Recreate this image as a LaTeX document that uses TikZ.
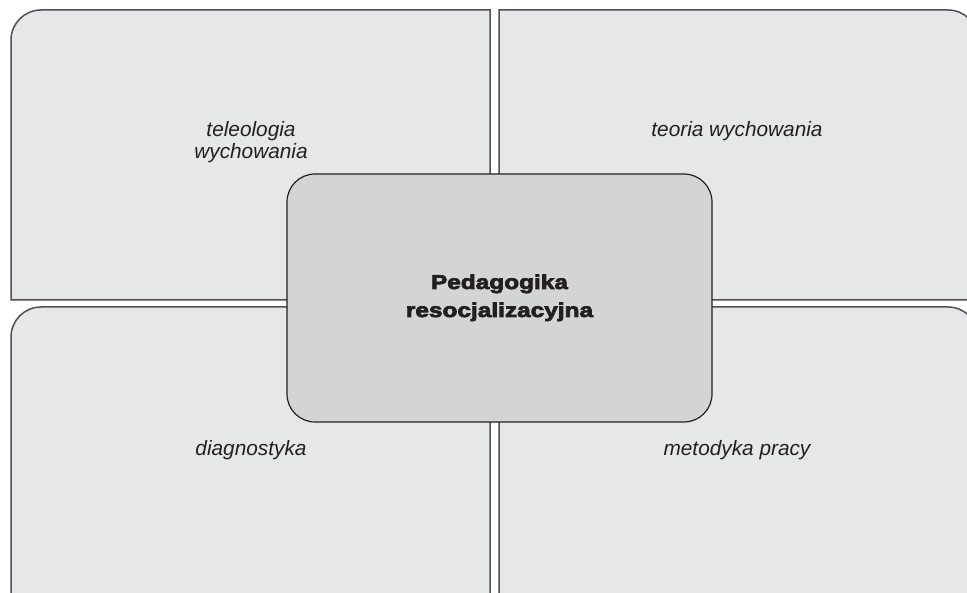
\documentclass[tikz,border=0pt]{standalone}
\usepackage{fontspec}
\setmainfont{Liberation Sans}
\newfontfamily\heavyfont[FakeStretch=1.22,BoldFeatures={FakeBold=3.5}]{Liberation Sans}
\definecolor{outerfill}{HTML}{E6E7E8}
\definecolor{outerline}{HTML}{505052}
\definecolor{innerfill}{HTML}{D3D4D6}
\definecolor{inkc}{HTML}{231F20}
\tikzset{
  quadbox/.style={fill=outerfill, draw=outerline, line width=1.5pt},
  centerbox/.style={fill=innerfill, draw=inkc, line width=1.2pt, rounded corners=28pt},
  itlabel/.style={font=\fontsize{20.8}{22}\selectfont\itshape, text=inkc, anchor=base, inner sep=0pt},
  mainlabel/.style={font=\fontsize{20}{28}\selectfont\heavyfont\bfseries, text=inkc, anchor=base, inner sep=0pt}
}
\begin{document}
\begin{tikzpicture}[x=1pt,y=-1pt]
\useasboundingbox (0,0) rectangle (967,593);
\begin{scope}
\clip (0,0) rectangle (967,593);
% top-left
\draw[quadbox] (490,300) -- (11,300) -- (11,40) arc[start angle=180,end angle=270,radius=30] -- (490,10) -- cycle;
% top-right
\draw[quadbox] (499,300) -- (499,10) -- (948,10) arc[start angle=270,end angle=360,radius=30] -- (978,300) -- cycle;
% bottom-left
\draw[quadbox] (490,620) -- (11,620) -- (11,337) arc[start angle=180,end angle=270,radius=30] -- (490,307) -- cycle;
% bottom-right
\draw[quadbox] (499,620) -- (499,307) -- (948,307) arc[start angle=270,end angle=360,radius=30] -- (978,620) -- cycle;
\end{scope}
\node[centerbox, minimum width=425pt, minimum height=248pt, inner sep=0pt] (center) at (499.5,298) {};
\node[mainlabel] (main1) at (499.5,289) {Pedagogika};
\node[mainlabel] (main2) at (499.5,317) {resocjalizacyjna};
\node[itlabel] (tl1) at (251,137) {teleologia};
\node[itlabel] (tl2) at (251,159) {wychowania};
\node[itlabel] (tr) at (737,137) {teoria wychowania};
\node[itlabel] (bl) at (251,456) {diagnostyka};
\node[itlabel] (br) at (737,456) {metodyka pracy};
\end{tikzpicture}
\end{document}
